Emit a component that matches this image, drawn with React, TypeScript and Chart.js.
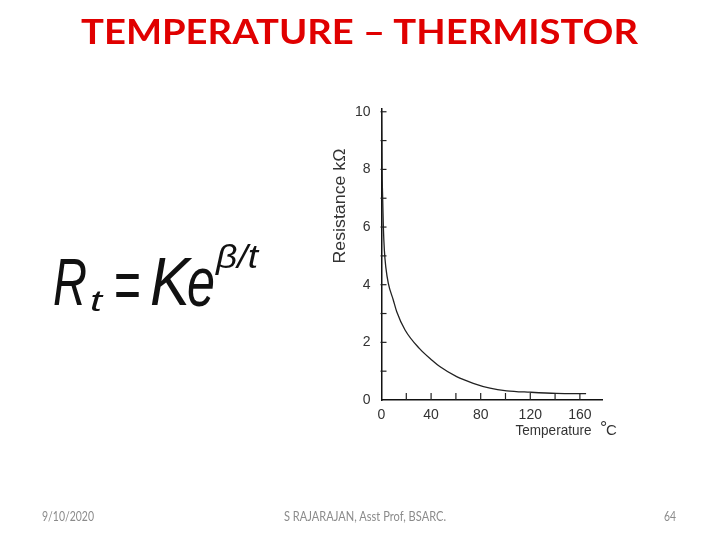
import React, { useEffect, useLayoutEffect, useRef } from "react";
import { Chart, registerables } from "chart.js";

Chart.register(...registerables);

// ---- data ----
const temperatureC = [0, 0.4, 1, 1.5, 2.3, 3.5, 5.5, 9.5, 12.3, 19, 30.5, 41, 47, 60.6, 74, 87.5, 101, 120, 141, 165];
const resistanceK = [10, 8.1, 6.9, 6.0, 5.2, 4.6, 4.05, 3.47, 3.06, 2.43, 1.79, 1.37, 1.16, 0.81, 0.58, 0.41, 0.32, 0.27, 0.23, 0.22];
const xTickLabels = [0, 40, 80, 120, 160];
const yTickLabels = [0, 2, 4, 6, 8, 10];
const slideTitle = "TEMPERATURE – THERMISTOR";
const yAxisTitle = "Resistance kΩ";
const xAxisTitle = "Temperature";
const xAxisDegree = "°";
const xAxisUnit = "C";
const footerDate = "9/10/2020";
const footerAuthor = "S RAJARAJAN, Asst Prof, BSARC.";
const footerPage = "64";

type FitProps = {
  text: string;
  left: number;
  top: number;
  width: number;
  font: string;
  color: string;
};

function FitText({ text, left, top, width, font, color }: FitProps) {
  const ref = useRef<HTMLSpanElement>(null);
  useLayoutEffect(() => {
    const el = ref.current;
    if (!el) return;
    el.style.transform = "none";
    const w = el.getBoundingClientRect().width;
    if (w > 0) el.style.transform = `scaleX(${width / w})`;
  }, [text, width, font]);
  return (
    <span
      ref={ref}
      style={{
        position: "absolute",
        left,
        top,
        whiteSpace: "nowrap",
        lineHeight: 1,
        transformOrigin: "left top",
        font,
        color,
        display: "inline-block",
      }}
    >
      {text}
    </span>
  );
}

const decorations = {
  id: "decorations",
  afterDraw(chart: any) {
    const { ctx, scales } = chart;
    const x = scales.x;
    const y = scales.y;
    const x0 = x.getPixelForValue(0);
    const y0 = y.getPixelForValue(0);
    ctx.save();
    ctx.strokeStyle = "#222";
    ctx.lineWidth = 1.2;
    for (const t of y.ticks) {
      if (t.value === 0) continue;
      const py = y.getPixelForValue(t.value);
      ctx.beginPath();
      ctx.moveTo(x0 - 1, py);
      ctx.lineTo(x0 + 5, py);
      ctx.stroke();
    }
    for (const t of x.ticks) {
      if (t.value === 0) continue;
      const px = x.getPixelForValue(t.value);
      ctx.beginPath();
      ctx.moveTo(px, y0);
      ctx.lineTo(px, y0 - 7);
      ctx.stroke();
    }

    // y axis title (rotated)
    const area = chart.chartArea;
    ctx.fillStyle = "#333";
    ctx.font = "16px 'Liberation Sans', Arial, sans-serif";
    ctx.textAlign = "center";
    ctx.textBaseline = "middle";
    const yw = ctx.measureText(yAxisTitle).width;
    ctx.save();
    ctx.translate(area.left - 40.5, 206);
    ctx.rotate(-Math.PI / 2);
    ctx.scale(115 / yw, 1);
    ctx.fillText(yAxisTitle, 0, 0);
    ctx.restore();

    // x axis title
    ctx.font = "15px 'Liberation Sans', Arial, sans-serif";
    ctx.textAlign = "left";
    ctx.textBaseline = "alphabetic";
    const xw = ctx.measureText(xAxisTitle).width;
    ctx.save();
    ctx.translate(515.5, 435);
    ctx.scale(76 / xw, 1);
    ctx.fillText(xAxisTitle, 0, 0);
    ctx.restore();
    ctx.fillText(xAxisUnit, 606, 435);
    ctx.font = "18px 'Liberation Sans', Arial, sans-serif";
    ctx.fillText(xAxisDegree, 600, 434);
    ctx.restore();
  },
};

function ThermistorChart() {
  const canvasRef = useRef<HTMLCanvasElement>(null);
  useEffect(() => {
    const canvas = canvasRef.current;
    if (!canvas) return;
    const points = temperatureC.map((t, i) => ({ x: t, y: resistanceK[i] }));
    const chart = new Chart(canvas, {
      type: "line",
      data: {
        datasets: [
          {
            data: points,
            borderColor: "#222",
            borderWidth: 1.3,
            pointRadius: 0,
            fill: false,
            cubicInterpolationMode: "monotone",
          },
        ],
      },
      options: {
        responsive: false,
        animation: false,
        devicePixelRatio: 1,
        layout: { padding: { left: 321.5, right: 117.8, top: 108.3, bottom: 100 } },
        plugins: { legend: { display: false }, tooltip: { enabled: false } },
        scales: {
          x: {
            type: "linear",
            min: 0,
            max: 178,
            grid: { display: false, drawTicks: false },
            border: { display: true, color: "#111", width: 1.5 },
            ticks: {
              stepSize: 20,
              includeBounds: false,
              autoSkip: false,
              maxRotation: 0,
              padding: 7,
              color: "#333",
              font: { family: "'Liberation Sans', Arial, sans-serif", size: 14 },
              callback: (v: any) => (xTickLabels.includes(Number(v)) ? String(v) : ""),
            },
            afterFit: (s: any) => {
              s.height = 40;
            },
          },
          y: {
            type: "linear",
            min: 0,
            max: 10.12,
            grid: { display: false, drawTicks: false },
            border: { display: true, color: "#111", width: 1.5 },
            ticks: {
              stepSize: 1,
              includeBounds: false,
              autoSkip: false,
              padding: 11,
              color: "#333",
              font: { family: "'Liberation Sans', Arial, sans-serif", size: 14 },
              callback: (v: any) => (yTickLabels.includes(Number(v)) ? String(v) : ""),
            },
            afterFit: (s: any) => {
              s.width = 60;
            },
          },
        },
      },
      plugins: [decorations],
    } as any);
    return () => chart.destroy();
  }, []);
  return (
    <canvas
      ref={canvasRef}
      width={720}
      height={540}
      style={{ position: "absolute", left: 0, top: 0, width: 720, height: 540 }}
    />
  );
}

const formulaFont = (size: number, italic = true) =>
  `${italic ? "italic " : ""}${size}px 'Liberation Sans', Arial, sans-serif`;

export default function App() {
  return (
    <div
      style={{
        position: "fixed",
        left: 0,
        top: 0,
        width: 720,
        height: 540,
        background: "#fff",
        overflow: "hidden",
      }}
    >
      <ThermistorChart />
      <FitText text={slideTitle} left={81} top={9.8} width={557} font="700 34px Lato, 'Open Sans', sans-serif" color="#e00000" />

      {/* formula R_t = K e^{β/t} */}
      <FitText text="R" left={53} top={244.1} width={34} font={formulaFont(66)} color="#111" />
      <FitText text="t" left={90} top={283.6} width={12} font={formulaFont(30)} color="#111" />
      <FitText text="=" left={114} top={244.7} width={27} font={formulaFont(70, false)} color="#111" />
      <FitText text="K" left={150} top={242.4} width={40} font={formulaFont(68)} color="#111" />
      <FitText text="e" left={187} top={241.7} width={28} font={formulaFont(70)} color="#111" />
      <FitText text="β/t" left={216} top={237.2} width={42} font={formulaFont(34)} color="#111" />

      <FitText text={footerDate} left={42} top={508.9} width={52} font="12.5px Lato, 'Open Sans', sans-serif" color="#8b8b8b" />
      <FitText text={footerAuthor} left={284} top={508.9} width={162} font="12.5px Lato, 'Open Sans', sans-serif" color="#8b8b8b" />
      <FitText text={footerPage} left={664} top={508.9} width={12} font="12.5px Lato, 'Open Sans', sans-serif" color="#8b8b8b" />
    </div>
  );
}
